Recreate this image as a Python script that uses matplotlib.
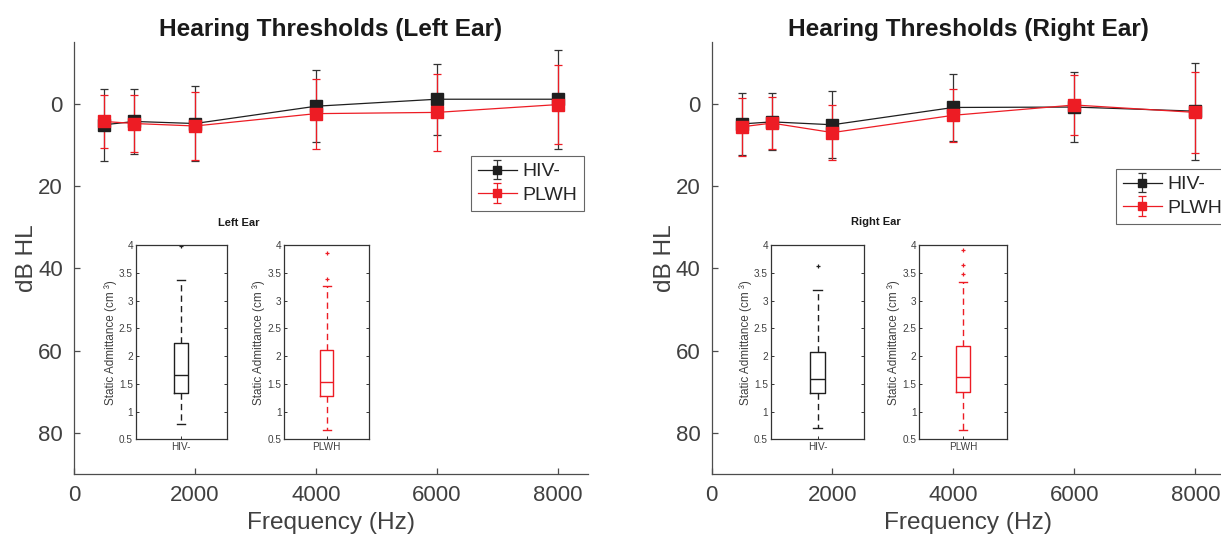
import matplotlib
matplotlib.use('Agg')
import matplotlib.pyplot as plt

plt.rcParams['font.family'] = ['Liberation Sans', 'DejaVu Sans']

# frequencies (Hz)
freqs = [500, 1000, 2000, 4000, 6000, 8000]

# mean / sd thresholds (dB HL)
left_hiv_mean = [5.1, 4.3, 4.8, 0.6, -1.1, -1.1]
left_hiv_sd = [8.7, 7.8, 9.0, 8.8, 8.6, 12.0]
left_plwh_mean = [4.3, 4.8, 5.4, 2.4, 2.1, 0.2]
left_plwh_sd = [6.5, 7.0, 8.2, 8.5, 9.4, 9.5]

right_hiv_mean = [4.9, 4.4, 5.1, 0.9, 0.8, 1.8]
right_hiv_sd = [7.6, 6.9, 8.1, 8.1, 8.5, 11.8]
right_plwh_mean = [5.6, 4.7, 7.0, 2.8, 0.3, 2.1]
right_plwh_sd = [7.0, 6.3, 6.7, 6.5, 7.2, 9.8]

# static admittance boxplots: whislo, q1, med, q3, whishi
left_hiv_box = [0.77, 1.33, 1.66, 2.23, 3.37]
left_hiv_out = [3.98]
left_plwh_box = [0.66, 1.29, 1.54, 2.11, 3.27]
left_plwh_out = [3.40, 3.87]
right_hiv_box = [0.70, 1.33, 1.59, 2.08, 3.19]
right_hiv_out = [3.63]
right_plwh_box = [0.67, 1.35, 1.62, 2.19, 3.34]
right_plwh_out = [3.49, 3.64, 3.91]

group_names = ['HIV-', 'PLWH']

BLACK = '#1f1f1f'
RED = '#ed1c24'
AXC = '#4d4d4d'
TXT = '#404040'

W, H = 1221, 543
fig = plt.figure(figsize=(12.21, 5.43), dpi=100)


def px(x0, y0, x1, y1):
    # pixel box -> figure fraction rect
    return [x0 / W, 1 - y1 / H, (x1 - x0) / W, (y1 - y0) / H]


def main_panel(rect, title, hiv_m, hiv_s, plwh_m, plwh_s, leg_xy):
    ax = fig.add_axes(rect)
    h1 = ax.errorbar(freqs, hiv_m, yerr=hiv_s, color=BLACK, ecolor='#333333',
                     marker='s', markersize=9, markerfacecolor=BLACK,
                     markeredgecolor=BLACK, lw=0.9, elinewidth=0.9,
                     capsize=3, capthick=0.9, label='HIV-')
    h2 = ax.errorbar(freqs, plwh_m, yerr=plwh_s, color=RED, ecolor=RED,
                     marker='s', markersize=9, markerfacecolor=RED,
                     markeredgecolor=RED, lw=0.9, elinewidth=0.9,
                     capsize=3, capthick=0.9, label='PLWH')
    ax.set_xlim(0, 8500)
    ax.set_ylim(90, -15)
    ax.set_xticks([0, 2000, 4000, 6000, 8000])
    ax.set_yticks([0, 20, 40, 60, 80])
    for s in ['top', 'right']:
        ax.spines[s].set_visible(False)
    for s in ['left', 'bottom']:
        ax.spines[s].set_color(AXC)
        ax.spines[s].set_linewidth(0.9)
    ax.tick_params(direction='in', length=4.5, width=0.9, color=AXC,
                   labelsize=16, labelcolor=TXT, pad=8)
    ax.set_xlabel('Frequency (Hz)', fontsize=17.6, color=TXT, labelpad=4)
    ax.set_ylabel('dB HL', fontsize=17.6, color=TXT, labelpad=0)
    ax.set_title(title, fontsize=17.6, fontweight='bold', color='#1a1a1a', pad=4)
    leg = ax.legend(handles=[h1, h2], loc='upper left',
                    bbox_to_anchor=(leg_xy[0] / W, 1 - leg_xy[1] / H),
                    bbox_transform=fig.transFigure, borderaxespad=0,
                    fontsize=14, fancybox=False, framealpha=1,
                    edgecolor='#666666', markerscale=0.6,
                    labelspacing=0.3, handletextpad=0.3, borderpad=0.35,
                    handlelength=2.0)
    leg.get_frame().set_linewidth(0.8)
    for t in leg.get_texts():
        t.set_color('#262626')
    return ax


def box_panel(rect, stats, outliers, name, col):
    ax = fig.add_axes(rect)
    st = [{'whislo': stats[0], 'q1': stats[1], 'med': stats[2],
           'q3': stats[3], 'whishi': stats[4], 'fliers': outliers}]
    ax.bxp(st, positions=[1], widths=0.15, capwidths=0.09,
           boxprops=dict(color=col, lw=1.0),
           medianprops=dict(color=col, lw=1.0),
           whiskerprops=dict(color=col, lw=1.0, linestyle=(0, (4.5, 3))),
           capprops=dict(color=col, lw=1.0),
           flierprops=dict(marker='+', markersize=3.5, markeredgecolor=col,
                           markeredgewidth=0.9))
    ax.set_xlim(0.5, 1.5)
    ax.set_ylim(0.5, 4)
    ax.set_yticks([0.5, 1, 1.5, 2, 2.5, 3, 3.5, 4])
    ax.set_yticklabels(['0.5', '1', '1.5', '2', '2.5', '3', '3.5', '4'])
    ax.set_xticks([1])
    ax.set_xticklabels([name])
    for s in ax.spines.values():
        s.set_color('#333333')
        s.set_linewidth(0.9)
    ax.tick_params(direction='in', length=2.5, width=0.7, color='#333333',
                   labelsize=7.2, labelcolor=TXT, pad=2, right=True)
    ax.set_ylabel('Static Admittance (cm ³)', fontsize=8.5, color=TXT, labelpad=1.5)
    return ax


main_panel(px(74, 42, 588, 474.3), 'Hearing Thresholds (Left Ear)',
           left_hiv_mean, left_hiv_sd, left_plwh_mean, left_plwh_sd, (471, 156))
main_panel(px(711.5, 42, 1225.5, 474.3), 'Hearing Thresholds (Right Ear)',
           right_hiv_mean, right_hiv_sd, right_plwh_mean, right_plwh_sd, (1116, 169))

box_panel(px(135.7, 245.3, 226.7, 439.3), left_hiv_box, left_hiv_out, group_names[0], BLACK)
box_panel(px(284.3, 245.3, 369.3, 439.3), left_plwh_box, left_plwh_out, group_names[1], RED)
box_panel(px(770.7, 245.3, 864.3, 439.3), right_hiv_box, right_hiv_out, group_names[0], BLACK)
box_panel(px(919.3, 245.3, 1006.7, 439.3), right_plwh_box, right_plwh_out, group_names[1], RED)

fig.text(239 / W, 1 - 223 / H, 'Left Ear', fontsize=8, fontweight='bold',
         color='#1a1a1a', ha='center', va='center')
fig.text(875.7 / W, 1 - 222 / H, 'Right Ear', fontsize=8, fontweight='bold',
         color='#1a1a1a', ha='center', va='center')

fig.savefig('out.png', dpi=100)
